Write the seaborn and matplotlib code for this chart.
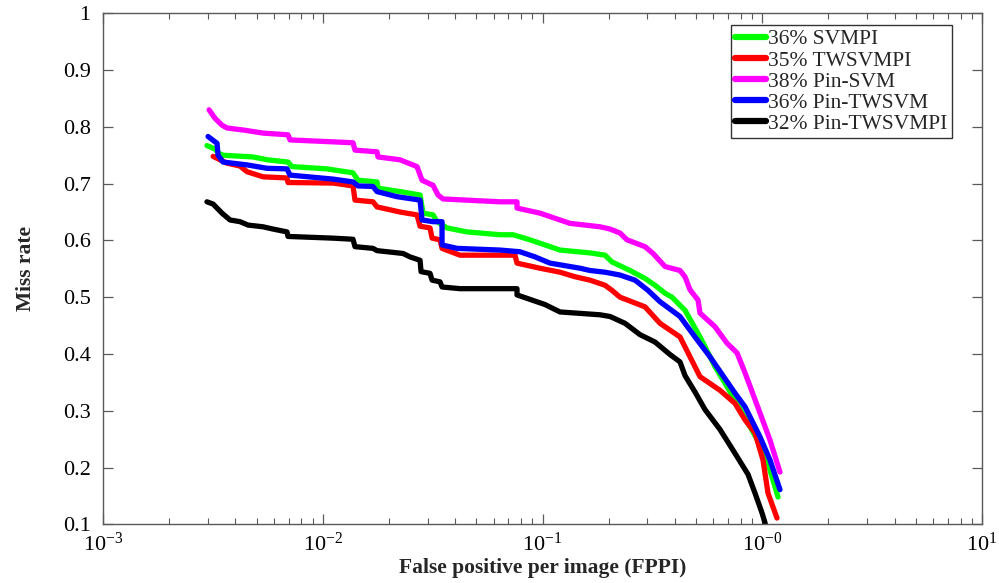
import numpy as np
import pandas as pd
import matplotlib
matplotlib.use("Agg")
import matplotlib.pyplot as plt
import seaborn as sns
from matplotlib.ticker import FixedLocator, FixedFormatter, LogLocator, NullFormatter

# ---------------- data (FPPI, miss rate) ----------------
labels = ["36% SVMPI", "35% TWSVMPI", "38% Pin-SVM", "36% Pin-TWSVM", "32% Pin-TWSVMPI"]
colors = ["#00FF00", "#FF0000", "#FF00FF", "#0000FF", "#000000"]

svmpi_x = [0.002972, 0.003235, 0.003339, 0.003518, 0.004816, 0.005577, 0.006949, 0.007247,
           0.01045, 0.01373, 0.01447, 0.01766, 0.01784, 0.02247, 0.02772, 0.02860, 0.03176,
           0.03311, 0.03677, 0.04533, 0.06407, 0.07341, 0.08772, 0.1027, 0.1201, 0.1645,
           0.1925, 0.2072, 0.2502, 0.2928, 0.3251, 0.3611, 0.3885, 0.4451, 0.5209, 0.6095,
           0.7516, 0.8796, 1.029, 1.180]
svmpi_y = [0.767, 0.761, 0.754, 0.750, 0.747, 0.742, 0.738, 0.730,
           0.726, 0.719, 0.706, 0.703, 0.692, 0.686, 0.680, 0.648, 0.645,
           0.633, 0.622, 0.615, 0.610, 0.610, 0.601, 0.592, 0.583, 0.578,
           0.574, 0.562, 0.547, 0.533, 0.521, 0.507, 0.500, 0.477, 0.430, 0.378,
           0.319, 0.272, 0.225, 0.148]

twsvmpi_x = [0.003170, 0.003667, 0.004202, 0.004522, 0.005348, 0.006876, 0.006949, 0.01113,
             0.01373, 0.01402, 0.01693, 0.01766, 0.02247, 0.02685, 0.02772, 0.03077, 0.03144,
             0.03417, 0.03490, 0.04213, 0.07497, 0.07656, 0.09741, 0.1201, 0.1406, 0.1645,
             0.1925, 0.2072, 0.2253, 0.2928, 0.3426, 0.4224, 0.4691, 0.5209, 0.6423, 0.7516,
             0.8346, 0.9268, 1.008, 1.062, 1.167]
twsvmpi_y = [0.748, 0.736, 0.731, 0.721, 0.712, 0.710, 0.702, 0.701,
             0.696, 0.671, 0.668, 0.659, 0.650, 0.645, 0.625, 0.622, 0.604,
             0.601, 0.586, 0.574, 0.574, 0.560, 0.551, 0.544, 0.536, 0.530,
             0.521, 0.512, 0.500, 0.483, 0.454, 0.430, 0.395, 0.360, 0.336, 0.313,
             0.284, 0.261, 0.213, 0.155, 0.111]

pinsvm_x = [0.003038, 0.003235, 0.003480, 0.003667, 0.004429, 0.005348, 0.006949, 0.007097,
            0.01373, 0.01402, 0.01766, 0.01784, 0.02247, 0.02685, 0.02830, 0.03176, 0.03346,
            0.03526, 0.06407, 0.07656, 0.07656, 0.09741, 0.1334, 0.1827, 0.2029, 0.2253,
            0.2424, 0.2928, 0.3184, 0.3611, 0.4224, 0.4451, 0.4691, 0.5101, 0.5209, 0.6095,
            0.6913, 0.7675, 0.8346, 0.9768, 1.085, 1.204]
pinsvm_y = [0.830, 0.815, 0.803, 0.798, 0.794, 0.789, 0.786, 0.777,
            0.772, 0.759, 0.756, 0.747, 0.742, 0.730, 0.706, 0.697, 0.680,
            0.673, 0.668, 0.668, 0.657, 0.648, 0.630, 0.624, 0.620, 0.613,
            0.601, 0.589, 0.577, 0.554, 0.547, 0.536, 0.513, 0.495, 0.472, 0.448,
            0.419, 0.402, 0.367, 0.296, 0.248, 0.192]

pintwsvm_x = [0.003006, 0.003304, 0.003339, 0.003518, 0.004522, 0.005577, 0.006876, 0.007097,
              0.01113, 0.01373, 0.01447, 0.01693, 0.01766, 0.02178, 0.02772, 0.02830, 0.03176,
              0.03490, 0.03490, 0.04083, 0.06407, 0.07900, 0.09245, 0.1082, 0.1482, 0.1645,
              0.1925, 0.2253, 0.2637, 0.3021, 0.3426, 0.4224, 0.4943, 0.5784, 0.7516, 0.8346,
              0.9768, 1.085, 1.204]
pintwsvm_y = [0.783, 0.771, 0.750, 0.738, 0.733, 0.727, 0.726, 0.715,
              0.708, 0.703, 0.696, 0.695, 0.686, 0.677, 0.671, 0.636, 0.633,
              0.633, 0.592, 0.586, 0.583, 0.580, 0.571, 0.560, 0.551, 0.547,
              0.544, 0.539, 0.530, 0.512, 0.492, 0.466, 0.430, 0.395, 0.331, 0.307,
              0.254, 0.213, 0.161]

pintwsvmpi_x = [0.002972, 0.003170, 0.003480, 0.003785, 0.004202, 0.004570, 0.005348, 0.005937,
                0.006876, 0.006949, 0.01113, 0.01373, 0.01402, 0.01693, 0.01766, 0.02319, 0.02495,
                0.02772, 0.02801, 0.03077, 0.03144, 0.03417, 0.03490, 0.04213, 0.07656, 0.07656,
                0.1027, 0.1201, 0.1827, 0.2029, 0.2374, 0.2778, 0.3251, 0.3804, 0.4224, 0.4451,
                0.4943, 0.5489, 0.6423, 0.7516, 0.8612, 0.9268, 0.9975, 1.029, 1.045]
pintwsvmpi_y = [0.668, 0.664, 0.648, 0.636, 0.633, 0.627, 0.624, 0.620,
                0.615, 0.607, 0.604, 0.602, 0.589, 0.586, 0.582, 0.577, 0.571,
                0.565, 0.545, 0.542, 0.530, 0.527, 0.518, 0.515, 0.515, 0.504,
                0.487, 0.474, 0.469, 0.466, 0.454, 0.434, 0.421, 0.399, 0.386, 0.362,
                0.333, 0.302, 0.267, 0.225, 0.188, 0.155, 0.120, 0.103, 0.090]

xtick_vals = [1e-3, 1e-2, 1e-1, 1e0, 1e1]
xtick_labels = [r"$10^{-3}$", r"$10^{-2}$", r"$10^{-1}$", r"$10^{-0}$", r"$10^{1}$"]
ytick_vals = [0.1, 0.2, 0.3, 0.4, 0.5, 0.6, 0.7, 0.8, 0.9, 1.0]
ytick_labels = ["0.1", "0.2", "0.3", "0.4", "0.5", "0.6", "0.7", "0.8", "0.9", "1"]

series = [(svmpi_x, svmpi_y), (twsvmpi_x, twsvmpi_y), (pinsvm_x, pinsvm_y),
          (pintwsvm_x, pintwsvm_y), (pintwsvmpi_x, pintwsvmpi_y)]

# ---------------- style ----------------
sns.set_theme(style="white")
plt.rcParams["font.family"] = ["Liberation Serif", "DejaVu Serif"]
plt.rcParams["mathtext.fontset"] = "custom"
plt.rcParams["mathtext.rm"] = "Liberation Serif"
plt.rcParams["mathtext.it"] = "Liberation Serif:italic"
plt.rcParams["mathtext.bf"] = "Liberation Serif:bold"

fig = plt.figure(figsize=(9.99, 5.83), dpi=100)
ax = fig.add_axes([103 / 999, 1 - 524.3 / 583, (982 - 103) / 999, (524.3 - 13.3) / 583])

for (xs, ys), lab, col in zip(series, labels, colors):
    df = pd.DataFrame({"FPPI": xs, "miss": ys})
    sns.lineplot(data=df, x="FPPI", y="miss", sort=False, estimator=None,
                 color=col, linewidth=3.8, label=lab, ax=ax)

ax.set_xscale("log")
ax.set_xlim(1e-3, 1e1)
ax.set_ylim(0.1, 1.0)

ax.xaxis.set_major_locator(FixedLocator(xtick_vals))
ax.xaxis.set_major_formatter(FixedFormatter(xtick_labels))
ax.xaxis.set_minor_locator(LogLocator(base=10, subs=np.arange(2, 10), numticks=20))
ax.xaxis.set_minor_formatter(NullFormatter())
ax.yaxis.set_major_locator(FixedLocator(ytick_vals))
ax.yaxis.set_major_formatter(FixedFormatter(ytick_labels))

spine_col = "#5a5a5a"
for s in ax.spines.values():
    s.set_color(spine_col)
    s.set_linewidth(1.0)
ax.tick_params(which="both", direction="in", top=True, right=True, bottom=True, left=True,
               color=spine_col, labelcolor="black")
ax.tick_params(axis="y", which="major", labelsize=16, pad=9)
ax.tick_params(axis="x", which="major", labelsize=16, pad=6)
ax.tick_params(which="major", length=7, width=0.9)
ax.tick_params(which="minor", length=4, width=0.8)

ax.set_xlabel("False positive per image (FPPI)", fontsize=15.5, fontweight="bold", labelpad=1.5)
ax.set_ylabel("Miss rate", fontsize=15.5, fontweight="bold", labelpad=19)

leg = ax.legend(loc="upper right", bbox_to_anchor=((952 - 103) / 879, (524.3 - 25) / 511),
                borderaxespad=0, fontsize=15.5, frameon=True, fancybox=False,
                handlelength=1.45, handletextpad=0.1, labelspacing=0.05, borderpad=0.2)
leg.get_frame().set_edgecolor("black")
leg.get_frame().set_linewidth(1.0)
for lh in leg.get_lines():
    lh.set_linewidth(4.5)

fig.savefig("out.png", dpi=100)
